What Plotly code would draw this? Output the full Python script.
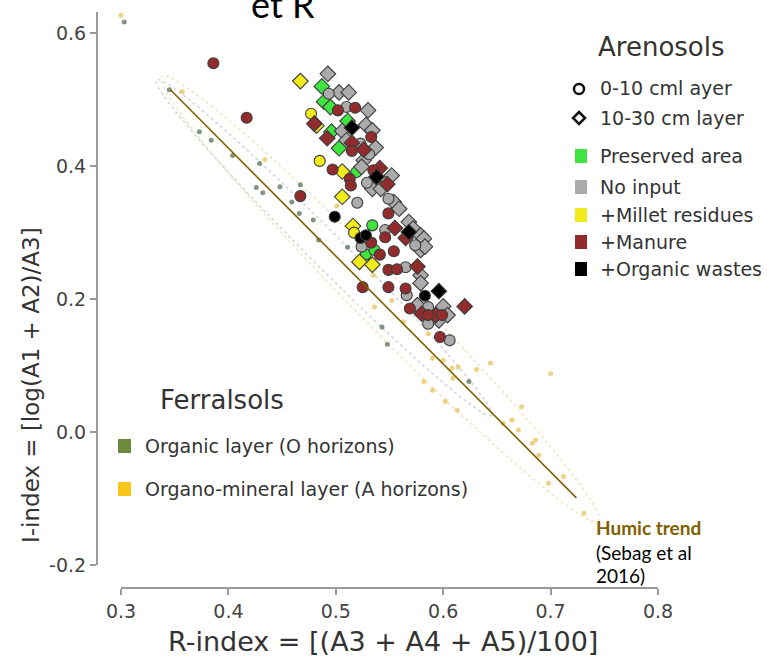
import math
import plotly.graph_objects as go

# ---------------- data ----------------
# Arenosols, by treatment; 0-10 cm layer = circles, 10-30 cm layer = diamonds
preserved_0_10 = [(0.534, 0.311), (0.528, 0.267), (0.536, 0.274), (0.519, 0.391)]
preserved_10_30 = [(0.487, 0.520), (0.489, 0.497), (0.495, 0.489), (0.511, 0.468),
                   (0.496, 0.452), (0.503, 0.427)]
no_input_0_10 = [(0.4935, 0.509), (0.510, 0.489), (0.523, 0.434), (0.531, 0.418),
                 (0.529, 0.375), (0.549, 0.351), (0.520, 0.345), (0.546, 0.304),
                 (0.524, 0.279), (0.574, 0.281), (0.565, 0.248), (0.566, 0.206),
                 (0.586, 0.188), (0.586, 0.163), (0.606, 0.138)]
no_input_10_30 = [(0.4926, 0.539), (0.503, 0.511), (0.512, 0.511), (0.530, 0.484),
                  (0.506, 0.453), (0.528, 0.462), (0.534, 0.454), (0.510, 0.439),
                  (0.537, 0.428), (0.526, 0.409), (0.524, 0.399), (0.552, 0.386),
                  (0.534, 0.366), (0.542, 0.366), (0.554, 0.346), (0.559, 0.336),
                  (0.568, 0.316), (0.572, 0.306), (0.579, 0.296), (0.582, 0.291),
                  (0.579, 0.274), (0.583, 0.279), (0.579, 0.236), (0.579, 0.224),
                  (0.576, 0.191), (0.600, 0.189), (0.596, 0.168), (0.604, 0.176)]
millet_0_10 = [(0.477, 0.479), (0.485, 0.408), (0.517, 0.300)]
millet_10_30 = [(0.467, 0.528), (0.482, 0.461), (0.506, 0.392), (0.506, 0.354),
                (0.516, 0.310), (0.522, 0.256), (0.534, 0.252)]
manure_0_10 = [(0.386, 0.555), (0.417, 0.473), (0.502, 0.484), (0.518, 0.488),
               (0.533, 0.444), (0.515, 0.423), (0.497, 0.395), (0.535, 0.394),
               (0.513, 0.381), (0.514, 0.371), (0.549, 0.329), (0.467, 0.355),
               (0.533, 0.285), (0.541, 0.267), (0.546, 0.293), (0.554, 0.272),
               (0.549, 0.244), (0.557, 0.245), (0.525, 0.218), (0.549, 0.218),
               (0.565, 0.216), (0.569, 0.186), (0.586, 0.176), (0.599, 0.176),
               (0.597, 0.143)]
manure_10_30 = [(0.480, 0.464), (0.492, 0.442), (0.515, 0.435), (0.526, 0.425),
                (0.541, 0.397), (0.548, 0.373), (0.555, 0.307), (0.565, 0.292),
                (0.576, 0.249), (0.580, 0.178), (0.593, 0.176), (0.620, 0.189)]
organic_wastes_0_10 = [(0.499, 0.324), (0.523, 0.292), (0.528, 0.296), (0.583, 0.205)]
organic_wastes_10_30 = [(0.515, 0.458), (0.538, 0.384), (0.568, 0.301), (0.596, 0.212)]

# Ferralsols
ferral_organic = [(0.303, 0.617), (0.345, 0.515), (0.373, 0.452), (0.384, 0.439),
                  (0.404, 0.416), (0.429, 0.404), (0.426, 0.368), (0.432, 0.360),
                  (0.448, 0.369), (0.459, 0.346), (0.467, 0.372), (0.466, 0.329),
                  (0.479, 0.319), (0.484, 0.289), (0.511, 0.278), (0.543, 0.158),
                  (0.548, 0.132), (0.624, 0.076)]
ferral_organo_mineral = [(0.300, 0.627), (0.357, 0.512), (0.434, 0.410), (0.501, 0.340),
                         (0.535, 0.236), (0.536, 0.188), (0.552, 0.198), (0.563, 0.166),
                         (0.586, 0.148), (0.590, 0.111), (0.600, 0.108), (0.608, 0.096),
                         (0.614, 0.098), (0.631, 0.094), (0.644, 0.104), (0.700, 0.088),
                         (0.609, 0.081), (0.582, 0.076), (0.590, 0.063), (0.602, 0.046),
                         (0.613, 0.033), (0.673, 0.038), (0.656, 0.013), (0.664, 0.018),
                         (0.670, 0.003), (0.683, -0.017), (0.686, -0.012), (0.689, -0.035),
                         (0.698, -0.077), (0.712, -0.067), (0.731, -0.122)]

humic_trend = [(0.346, 0.515), (0.724, -0.099)]

# confidence ellipses: (end 1, end 2, half width in px)
ellipse_organic = ((0.333, 0.530), (0.645, 0.025), 17)
ellipse_organo_mineral = ((0.338, 0.535), (0.745, -0.135), 26)

x_ticks = [0.3, 0.4, 0.5, 0.6, 0.7, 0.8]
x_tick_labels = ["0.3", "0.4", "0.5", "0.6", "0.7", "0.8"]
y_ticks = [-0.2, 0.0, 0.2, 0.4, 0.6]
y_tick_labels = ["-0.2", "0.0", "0.2", "0.4", "0.6"]

treatments = ["Preserved area", "No input", "+Millet residues", "+Manure", "+Organic wastes"]
treatment_colors = ["#3fe43f", "#ababab", "#f1ea1c", "#922b2b", "#000000"]
ferral_labels = ["Organic layer (O horizons)", "Organo-mineral layer (A horizons)"]
ferral_colors = ["#6e8b3d", "#f5c518"]

# ---------------- layout geometry ----------------
W, H = 767, 661
X_RANGE = [0.3, 0.8]
Y_RANGE = [-0.2, 0.632]
XL, XR = 121, 658      # x axis pixel span
YT, YB = 12, 565       # y axis pixel span
SX = (XR - XL) / (X_RANGE[1] - X_RANGE[0])
SY = (YB - YT) / (Y_RANGE[1] - Y_RANGE[0])


def px(x):
    return x / W


def py(y):
    return 1 - y / H


FONT = "DejaVu Sans"
TXT = "#333333"

fig = go.Figure()


def ellipse_path(spec, n=90):
    (x1, y1), (x2, y2), hw = spec
    X1, Y1, X2, Y2 = x1 * SX, y1 * SY, x2 * SX, y2 * SY
    cx, cy = (X1 + X2) / 2, (Y1 + Y2) / 2
    a = math.hypot(X2 - X1, Y2 - Y1) / 2
    ang = math.atan2(Y2 - Y1, X2 - X1)
    xs, ys = [], []
    for i in range(n + 1):
        t = 2 * math.pi * i / n
        ex, ey = a * math.cos(t), hw * math.sin(t)
        X = cx + ex * math.cos(ang) - ey * math.sin(ang)
        Y = cy + ex * math.sin(ang) + ey * math.cos(ang)
        xs.append(X / SX)
        ys.append(Y / SY)
    return xs, ys


for spec, col in [(ellipse_organic, "rgba(140,160,160,0.4)"),
                  (ellipse_organo_mineral, "rgba(225,200,120,0.45)")]:
    ex, ey = ellipse_path(spec)
    fig.add_trace(go.Scatter(x=ex, y=ey, mode="lines", hoverinfo="skip",
                             line=dict(color=col, width=1.6, dash="dot")))

# Ferralsol dots
for pts, col in [(ferral_organic, "rgba(85,115,85,0.75)"),
                 (ferral_organo_mineral, "rgba(230,190,80,0.7)")]:
    fig.add_trace(go.Scatter(x=[p[0] for p in pts], y=[p[1] for p in pts], mode="markers",
                             cliponaxis=False,
                             marker=dict(size=5, color=col, line=dict(width=0))))

# Arenosol points
groups = [
    (preserved_0_10, preserved_10_30),
    (no_input_0_10, no_input_10_30),
    (millet_0_10, millet_10_30),
    (manure_0_10, manure_10_30),
    (organic_wastes_0_10, organic_wastes_10_30),
]
for (c_pts, d_pts), col in zip(groups, treatment_colors):
    for pts, sym, size in [(d_pts, "diamond", 12), (c_pts, "circle", 11)]:
        fig.add_trace(go.Scatter(
            x=[p[0] for p in pts], y=[p[1] for p in pts], mode="markers",
            marker=dict(symbol=sym, size=size, color=col,
                        line=dict(color="#3c3c3c", width=1.1))))

# Humic trend line
fig.add_trace(go.Scatter(x=[p[0] for p in humic_trend], y=[p[1] for p in humic_trend],
                         mode="lines", line=dict(color="#7f6000", width=1.6)))

shapes = []
annotations = []


def text(x, y, s, size, color=TXT, family=FONT, xanchor="left", yanchor="middle", angle=0):
    annotations.append(dict(x=px(x), y=py(y), xref="paper", yref="paper", text=s,
                            showarrow=False, xanchor=xanchor, yanchor=yanchor,
                            textangle=angle,
                            font=dict(family=family, size=size, color=color)))


# Arenosols legend
text(661, 47, "Arenosols", 26, xanchor="center")
shapes.append(dict(type="circle", xref="paper", yref="paper",
                   x0=px(574), x1=px(584), y0=py(94), y1=py(84),
                   line=dict(color="#111", width=2.5), fillcolor="white"))
cx, cy, d = 579, 118, 6
shapes.append(dict(type="path", xref="paper", yref="paper",
                   path=f"M {px(cx)},{py(cy-d)} L {px(cx+d)},{py(cy)} L {px(cx)},{py(cy+d)} L {px(cx-d)},{py(cy)} Z",
                   line=dict(color="#111", width=2.5), fillcolor="white"))
text(598, 88, "0-10 cml ayer", 19)
text(598, 118, "10-30 cm layer", 19)
leg_y = [156, 187, 215, 242, 269]
for lab, col, yy in zip(treatments, treatment_colors, leg_y):
    shapes.append(dict(type="rect", xref="paper", yref="paper",
                       x0=px(575), x1=px(587), y0=py(yy + 7), y1=py(yy - 7),
                       line=dict(width=0), fillcolor=col))
    text(598, yy, lab, 19)

# Ferralsols legend
text(222, 400, "Ferralsols", 26, xanchor="center")
for lab, col, yy in zip(ferral_labels, ferral_colors, [446, 489]):
    shapes.append(dict(type="rect", xref="paper", yref="paper",
                       x0=px(118), x1=px(131), y0=py(yy + 7), y1=py(yy - 7),
                       line=dict(width=0), fillcolor=col))
    text(143, yy, lab, 19)

# Humic trend label
text(594, 527, "<b>Humic trend</b>", 19, color="#7f6000", family="Lato")
text(594, 552, "(Sebag et al", 19, color="#000000", family="Lato")
text(594, 575, "2016)", 19, color="#000000", family="Lato")

# axis titles
text(383, 641, "R-index = [(A3 + A4 + A5)/100]", 27, xanchor="center")
text(31, 385, "I-index = [log(A1 + A2)/A3]", 23, xanchor="center", angle=-90)

# partially visible title
text(283, 28, "et R", 36, color="#000000", family="Lato", xanchor="center", yanchor="bottom")

axis_common = dict(showgrid=False, zeroline=False, showline=True, linecolor="#9a9a9a",
                   linewidth=2, ticks="outside", ticklen=6, tickwidth=2, tickcolor="#9a9a9a",
                   tickfont=dict(family=FONT, size=19, color="#444444"), automargin=False)

fig.update_layout(
    width=W, height=H, margin=dict(l=0, r=0, t=0, b=0),
    paper_bgcolor="white", plot_bgcolor="white", showlegend=False,
    xaxis=dict(domain=[px(XL), px(XR)], range=X_RANGE, anchor="free", position=py(588),
               tickvals=x_ticks, ticktext=x_tick_labels, **axis_common),
    yaxis=dict(domain=[py(YB), py(YT)], range=Y_RANGE, anchor="free", position=px(97),
               tickvals=y_ticks, ticktext=y_tick_labels, **axis_common),
    shapes=shapes, annotations=annotations,
)

fig.write_html("out.html", config={"displayModeBar": False},
               post_script="document.body.style.margin='0';")
